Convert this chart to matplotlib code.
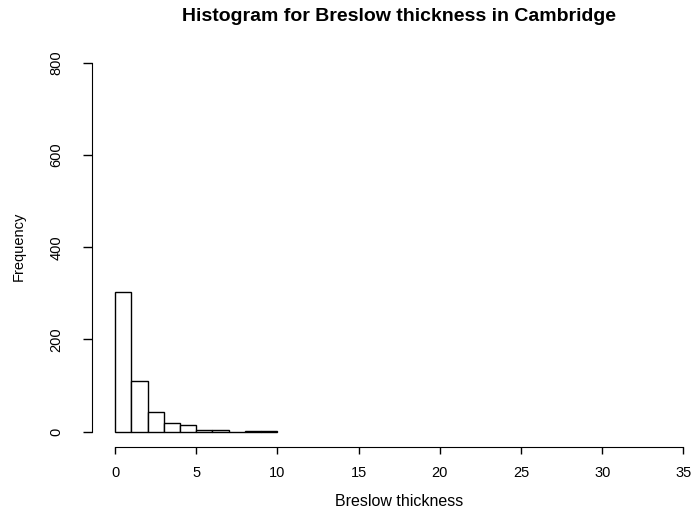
import matplotlib
matplotlib.use("Agg")
import matplotlib.pyplot as plt

# histogram counts (bins of width 1 from 0 to 10)
bin_edges = [0, 1, 2, 3, 4, 5, 6, 7, 8, 9, 10]
counts = [302, 110, 42, 20, 14, 3, 3, 0, 1, 1]
x_ticks = [0, 5, 10, 15, 20, 25, 30, 35]
y_ticks = [0, 200, 400, 600, 800]

plt.rcParams['font.family'] = ['Liberation Sans', 'DejaVu Sans']

W, H = 699, 517
fig = plt.figure(figsize=(W / 100, H / 100), dpi=100)
# plot region in pixels: left 92.3, right 706, top 47.9, bottom 446.5
ax = fig.add_axes([92.3 / W, (H - 446.5) / H, 613.9 / W, 398.6 / H])

widths = [bin_edges[i + 1] - bin_edges[i] for i in range(len(counts))]
ax.bar(bin_edges[:-1], counts, width=widths, align='edge',
       facecolor='white', edgecolor='black', linewidth=1.0)

ax.set_xlim(-1.4, 36.4)
ax.set_ylim(-32, 832)

# R-style detached axes
for s in ['top', 'right']:
    ax.spines[s].set_visible(False)
ax.spines['left'].set_bounds(0, 800)
ax.spines['bottom'].set_bounds(0, 35)
ax.set_xticks(x_ticks)
ax.set_yticks(y_ticks)
ax.set_yticklabels([str(v) for v in y_ticks], rotation=90, va='center')
ax.tick_params(axis='x', labelsize=10.5, length=5, width=1, pad=9)
ax.tick_params(axis='y', labelsize=10.5, length=6.7, width=1, pad=14)

fig.text(399 / W, 1 - 506 / H, "Breslow thickness", fontsize=11.5,
         ha='center', va='baseline')
fig.text(19 / W, 1 - 246 / H, "Frequency", fontsize=10.5, rotation=90,
         ha='center', va='center')
fig.text(399 / W, 1 - 21 / H, "Histogram for Breslow thickness in Cambridge",
         fontsize=14, fontweight='bold', ha='center', va='baseline')

fig.savefig("out.png", dpi=100)
